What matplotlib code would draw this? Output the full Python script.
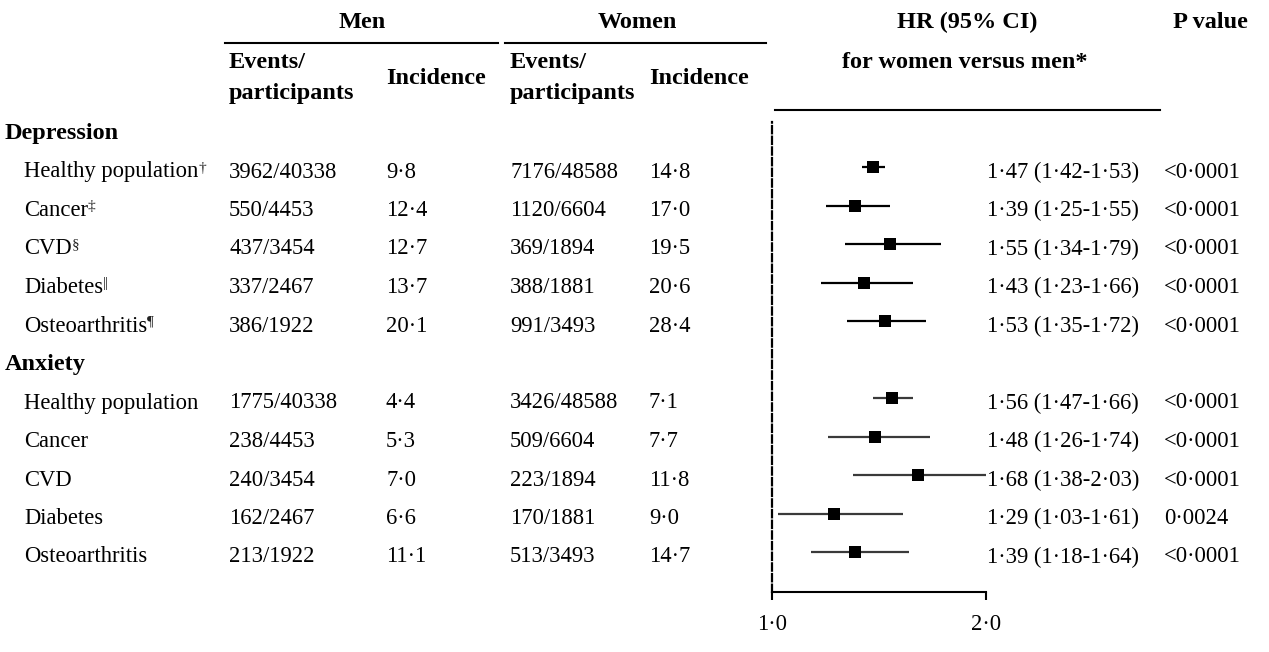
import matplotlib
matplotlib.use("Agg")
import matplotlib.pyplot as plt

plt.rcParams['font.family'] = ['Liberation Serif', 'DejaVu Serif']

# data
groups = ["Depression", "Anxiety"]
conditions = ["Healthy population", "Cancer", "CVD", "Diabetes", "Osteoarthritis"]
dep_marks = ["\u2020", "\u2021", "\u00a7", "||", "\u00b6"]

men_events = [["3962/40338", "550/4453", "437/3454", "337/2467", "386/1922"],
              ["1775/40338", "238/4453", "240/3454", "162/2467", "213/1922"]]
men_incidence = [[9.8, 12.4, 12.7, 13.7, 20.1],
                 [4.4, 5.3, 7.0, 6.6, 11.1]]
women_events = [["7176/48588", "1120/6604", "369/1894", "388/1881", "991/3493"],
                ["3426/48588", "509/6604", "223/1894", "170/1881", "513/3493"]]
women_incidence = [[14.8, 17.0, 19.5, 20.6, 28.4],
                   [7.1, 7.7, 11.8, 9.0, 14.7]]
hr = [[1.47, 1.39, 1.55, 1.43, 1.53],
      [1.56, 1.48, 1.68, 1.29, 1.39]]
ci_low = [[1.42, 1.25, 1.34, 1.23, 1.35],
          [1.47, 1.26, 1.38, 1.03, 1.18]]
ci_high = [[1.53, 1.55, 1.79, 1.66, 1.72],
           [1.66, 1.74, 2.03, 1.61, 1.64]]
p_values = [["<0\u00b70001"] * 5,
            ["<0\u00b70001", "<0\u00b70001", "<0\u00b70001", "0\u00b70024", "<0\u00b70001"]]


def dot(v, n):
    # decimal point as a middle dot
    return f"{v:.{n}f}".replace(".", "\u00b7")


W, H = 1269, 652
fig = plt.figure(figsize=(W / 100, H / 100), dpi=100)
fig.patch.set_facecolor("white")

# table axes in pixel units
ax = fig.add_axes([0, 0, 1, 1])
ax.set_xlim(0, W)
ax.set_ylim(H, 0)
ax.axis("off")

fs = 16.3
fsb = 17.5
row0, step = 172, 38.5


def ypos(k):
    return row0 + step * k


# headers
ax.text(362, 22, "Men", fontsize=fsb, weight="bold", ha="center", va="center")
ax.text(637, 22, "Women", fontsize=fsb, weight="bold", ha="center", va="center")
ax.text(967, 22, "HR (95% CI)", fontsize=fsb, weight="bold", ha="center", va="center")
ax.text(1210, 22, "P value", fontsize=fsb, weight="bold", ha="center", va="center")
ax.text(965, 62, "for women versus men*", fontsize=fsb, weight="bold", ha="center", va="center")
ax.plot([225, 498], [43, 43], color="black", lw=1.5)
ax.plot([505, 766], [43, 43], color="black", lw=1.5)
ax.plot([775, 1160], [110, 110], color="black", lw=1.5)
for x in (229, 510):
    ax.text(x, 62, "Events/", fontsize=fsb, weight="bold", ha="left", va="center")
    ax.text(x, 93, "participants", fontsize=fsb, weight="bold", ha="left", va="center")
for x in (386, 649):
    ax.text(x, 78, "Incidence", fontsize=fsb, weight="bold", ha="left", va="center")

# table rows
for g, name in enumerate(groups):
    base = g * 6
    ax.text(5, ypos(base - 1), name, fontsize=fsb, weight="bold", ha="left", va="center")
    for i, cond in enumerate(conditions):
        y = ypos(base + i)
        t = ax.text(24, y, cond, fontsize=fs, ha="left", va="center")
        if g == 0:
            ax.annotate(dep_marks[i], xy=(1.0, 1.0), xycoords=t, fontsize=11,
                        ha="left", va="top", color="#222222")
        ax.text(229, y, men_events[g][i], fontsize=fs, ha="left", va="center")
        ax.text(386, y, dot(men_incidence[g][i], 1), fontsize=fs, ha="left", va="center")
        ax.text(510, y, women_events[g][i], fontsize=fs, ha="left", va="center")
        ax.text(649, y, dot(women_incidence[g][i], 1), fontsize=fs, ha="left", va="center")
        label = f"{dot(hr[g][i], 2)} ({dot(ci_low[g][i], 2)}-{dot(ci_high[g][i], 2)})"
        ax.text(987, y, label, fontsize=fs, ha="left", va="center")
        ax.text(1164, y, p_values[g][i], fontsize=fs, ha="left", va="center")

# forest plot axes: HR 1.0 at x=772 px, 2.0 at x=986 px
x0, x1 = 772, 986
ytop, ybot = 122, 592
fax = fig.add_axes([x0 / W, (H - ybot) / H, (x1 - x0) / W, (ybot - ytop) / H])
fax.set_xlim(1.0, 2.0)
mk0 = row0 - 5
fax.set_ylim((ybot - mk0) / step, (ytop - mk0) / step)
fax.patch.set_alpha(0)
for s in ("top", "right"):
    fax.spines[s].set_visible(False)
fax.spines["left"].set_linestyle((0, (3.3, 1.5)))
fax.spines["left"].set_linewidth(1.6)
fax.spines["bottom"].set_linewidth(1.5)
fax.set_yticks([])
fax.set_xticks([1.0, 2.0])
fax.set_xticklabels(["1\u00b70", "2\u00b70"], fontsize=fs)
fax.tick_params(axis="x", direction="out", length=6, width=1.5, pad=10)

line_colors = ["black", "#3a3a3a"]
for g in range(len(groups)):
    for i in range(len(conditions)):
        k = g * 6 + i
        # CI lines are clipped at the axis end (2.0) as in the source figure
        fax.plot([ci_low[g][i], ci_high[g][i]], [k, k], color=line_colors[g],
                 lw=1.6, solid_capstyle="butt")
        fax.plot(hr[g][i], k, marker="s", markersize=8, color="black",
                 markeredgewidth=0, clip_on=False)

fig.savefig("out.png", dpi=100)
